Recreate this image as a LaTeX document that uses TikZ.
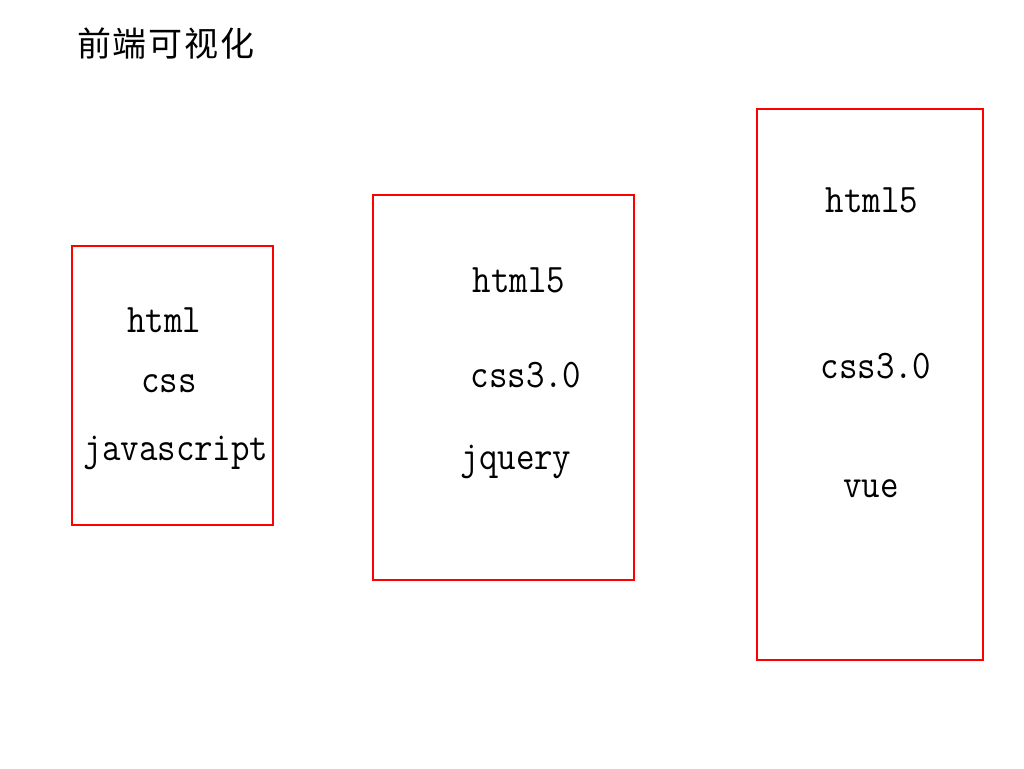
\documentclass[tikz,border=0pt]{standalone}
\usepackage{fontspec}
\usepackage{graphicx}
\newfontfamily\cjk{Noto Sans CJK SC}
\newfontfamily\monolat{Latin Modern Mono}
\begin{document}
\begin{tikzpicture}[x=1pt,y=-1pt,
  redbox/.style={draw=red, line width=2.6pt},
  itemtxt/.style={anchor=base, inner sep=0pt, font=\monolat\fontsize{35.9}{38}\selectfont},
  titletxt/.style={anchor=center, inner sep=0pt, font=\cjk\fontsize{34}{36}\selectfont}]
\useasboundingbox (0,0) rectangle (1024,768);
\fill[white] (0,0) rectangle (1024,768);
\node[titletxt] (title) at (166,44) {前\kern2pt端\kern2pt可\kern2pt视\kern2pt化};
\draw[redbox] (72,246) rectangle (273,525);
\draw[redbox] (373,195) rectangle (634,580);
\draw[redbox] (757,109) rectangle (983,660);
\node[itemtxt] (a1) at (164,332) {\scalebox{1}[1.13]{html}};
\node[itemtxt] (a2) at (169,392) {\scalebox{1}[1.13]{css}};
\node[itemtxt] (a3) at (176,460) {\scalebox{1}[1.13]{javascript}};
\node[itemtxt] (b1) at (519,292) {\scalebox{1}[1.13]{html5}};
\node[itemtxt] (b2) at (526,387) {\scalebox{1}[1.13]{css3.0}};
\node[itemtxt] (b3) at (516,469) {\scalebox{1}[1.13]{jquery}};
\node[itemtxt] (c1) at (872,212) {\scalebox{1}[1.13]{html5}};
\node[itemtxt] (c2) at (876,378) {\scalebox{1}[1.13]{css3.0}};
\node[itemtxt] (c3) at (871,497) {\scalebox{1}[1.13]{vue}};
\end{tikzpicture}
\end{document}
